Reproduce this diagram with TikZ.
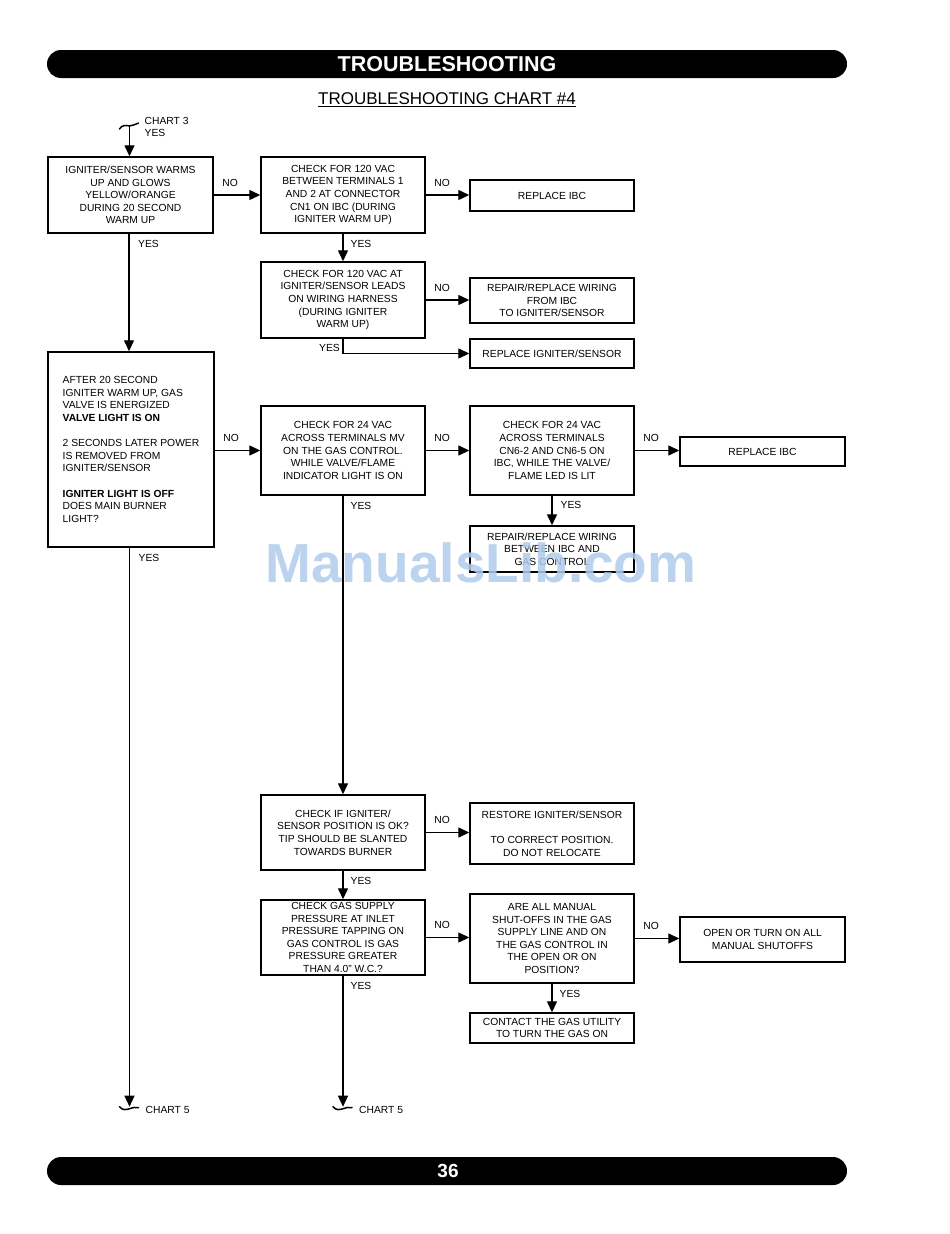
\documentclass[tikz,border=0pt]{standalone}
\usepackage{fontspec}
\setmainfont{Liberation Sans}
\usetikzlibrary{arrows.meta,calc}
\definecolor{wm}{RGB}{176,204,236}
\begin{document}
\begin{tikzpicture}[x=1pt,y=-1pt,
  box/.style={draw, line width=1.4pt, inner sep=0pt, align=center, font=\fontsize{10.3}{12.6}\selectfont},
  bx/.style 2 args={box, minimum width=#1, minimum height=#2},
  lbl/.style={inner sep=0pt, font=\fontsize{10.3}{12.6}\selectfont},
  arr/.style={line width=1.3pt, -{Triangle[length=11pt,width=10pt]}},
  ln/.style={line width=1.5pt, line cap=round},
  nolbl/.style={lbl, pos=0, anchor=south west, xshift=8pt, yshift=8pt},
  yeslbl/.style={lbl, pos=0, anchor=north west, xshift=7pt, yshift=-6pt}]
\useasboundingbox[fill=white] (0,0) rectangle (950,1234);

% header / footer
\fill[rounded corners=14pt] (47,50) rectangle (847,78);
\node[font=\fontsize{21.5}{22}\selectfont\bfseries, text=white, inner sep=0pt] (hd) at (447,64) {TROUBLESHOOTING};
\node[font=\fontsize{17}{18}\selectfont, inner sep=0pt] (sub) at (447,100) {\underline{TROUBLESHOOTING CHART \#4}};
\fill[rounded corners=14pt] (47,1157) rectangle (847,1185);
\node[font=\fontsize{19}{20}\selectfont\bfseries, text=white, inner sep=0pt] (pg) at (448,1171) {36};

% boxes
\node[bx={165}{76}] (A) at (130.5,195) {IGNITER/SENSOR WARMS\\UP AND GLOWS\\YELLOW/ORANGE\\DURING 20 SECOND\\WARM UP};
\node[bx={164}{76}] (B) at (343,195) {CHECK FOR 120 VAC\\BETWEEN TERMINALS 1\\AND 2 AT CONNECTOR\\CN1 ON IBC (DURING\\IGNITER WARM UP)};
\node[bx={164}{31}] (C) at (552,195.5) {REPLACE IBC};
\node[bx={164}{76}] (D) at (343,300) {CHECK FOR 120 VAC AT\\IGNITER/SENSOR LEADS\\ON WIRING HARNESS\\(DURING IGNITER\\WARM UP)};
\node[bx={164}{45}] (E) at (552,300.5) {REPAIR/REPLACE WIRING\\FROM IBC\\TO IGNITER/SENSOR};
\node[bx={164}{29}] (F) at (552,353.5) {REPLACE IGNITER/SENSOR};
\node[bx={166}{195}, align=left] (G) at (131,449.5) {AFTER 20 SECOND\\IGNITER WARM UP, GAS\\VALVE IS ENERGIZED\\\textbf{VALVE LIGHT IS ON}\\[12.6pt]2 SECONDS LATER POWER\\IS REMOVED FROM\\IGNITER/SENSOR\\[12.6pt]\textbf{IGNITER LIGHT IS OFF}\\DOES MAIN BURNER\\LIGHT?};
\node[bx={164}{89}] (H) at (343,450.5) {CHECK FOR 24 VAC\\ACROSS TERMINALS MV\\ON THE GAS CONTROL.\\WHILE VALVE/FLAME\\INDICATOR LIGHT IS ON};
\node[bx={164}{89}] (I) at (552,450.5) {CHECK FOR 24 VAC\\ACROSS TERMINALS\\CN6-2 AND CN6-5 ON\\IBC, WHILE THE VALVE/\\FLAME LED IS LIT};
\node[bx={165}{29}] (J) at (762.5,451.5) {REPLACE IBC};
\node[bx={164}{46}] (K) at (552,549) {REPAIR/REPLACE WIRING\\BETWEEN IBC AND\\GAS CONTROL};
\node[bx={164}{75}] (L) at (343,832.5) {CHECK IF IGNITER/\\SENSOR POSITION IS OK?\\TIP SHOULD BE SLANTED\\TOWARDS BURNER};
\node[bx={164}{61}] (M) at (552,833.5) {RESTORE IGNITER/SENSOR\\[12.6pt]TO CORRECT POSITION.\\DO NOT RELOCATE};
\node[bx={164}{75}] (N) at (343,937.5) {CHECK GAS SUPPLY\\PRESSURE AT INLET\\PRESSURE TAPPING ON\\GAS CONTROL IS GAS\\PRESSURE GREATER\\THAN 4.0" W.C.?};
\node[bx={164}{89}] (O) at (552,938.5) {ARE ALL MANUAL\\SHUT-OFFS IN THE GAS\\SUPPLY LINE AND ON\\THE GAS CONTROL IN\\THE OPEN OR ON\\POSITION?};
\node[bx={165}{45}] (P) at (762.5,939.5) {OPEN OR TURN ON ALL\\MANUAL SHUTOFFS};
\node[bx={164}{30}] (Q) at (552,1028) {CONTACT THE GAS UTILITY\\TO TURN THE GAS ON};

% watermark
\node[font=\fontsize{55}{55}\selectfont\bfseries, text=wm, text opacity=0.85, inner sep=0pt] (wmk) at (481,563) {ManualsLib.com};

% start
\coordinate (s) at (129.5,126);
\draw[ln] ($(s)+(-10,3)$) .. controls ($(s)+(-8,-1)$) and ($(s)+(-3,-1)$) .. ($(s)+(0,0)$) .. controls ($(s)+(3,0)$) and ($(s)+(6,-2)$) .. ($(s)+(9,-3)$);
\draw[arr] (s) -- (s |- A.north);
\node[lbl, anchor=west] (c3) at ($(s)+(15,-5)$) {CHART 3};
\node[lbl, anchor=west] (c3y) at ($(s)+(15,7)$) {YES};

% connectors
\draw[arr] (A.east) -- (B.west) node[nolbl]{NO};
\draw[arr] (B.east) -- (B.east -| C.west) node[nolbl]{NO};
\draw[arr] (B.south) -- (D.north) node[yeslbl]{YES};
\draw[arr] (D.east) -- (D.east -| E.west) node[nolbl]{NO};
\draw[arr] (D.south) |- (F.west);
\node[lbl, anchor=east] (dy) at ($(D.south)+(-3,9)$) {YES};
\draw[arr] ($(A.south)+(-1.5,0)$) -- ($(A.south |- G.north)+(-1.5,0)$) node[yeslbl, xshift=1.5pt]{YES};
\draw[arr] (G.east |- H.west) -- (H.west) node[nolbl]{NO};
\draw[arr] (H.east) -- (I.west) node[nolbl]{NO};
\draw[arr] (I.east) -- (I.east -| J.west) node[nolbl]{NO};
\draw[arr] (I.south) -- (K.north) node[yeslbl, xshift=1pt, yshift=1pt]{YES};
\draw[arr] (H.south) -- (L.north) node[yeslbl]{YES};
\draw[arr] (L.east) -- (L.east -| M.west) node[nolbl]{NO};
\draw[arr] (L.south) -- (N.north) node[yeslbl]{YES};
\draw[arr] (N.east) -- (N.east -| O.west) node[nolbl]{NO};
\draw[arr] (O.east) -- (O.east -| P.west) node[nolbl]{NO};
\draw[arr] (O.south) -- (Q.north) node[yeslbl]{YES};

% ends
\coordinate (e1) at ($(G.south)+(-1.5,559)$);
\coordinate (e2) at ($(N.south)+(0,131)$);
\draw[arr] ($(G.south)+(-1.5,0)$) -- (e1) node[yeslbl, xshift=1.5pt]{YES};
\draw[arr] (N.south) -- (e2) node[yeslbl]{YES};
\draw[ln] ($(e1)+(-10,0)$) .. controls ($(e1)+(-7,4)$) and ($(e1)+(-3,3)$) .. ($(e1)+(0,2)$) .. controls ($(e1)+(3,1)$) and ($(e1)+(6,0)$) .. ($(e1)+(9,1)$);
\draw[ln] ($(e2)+(-10,0)$) .. controls ($(e2)+(-7,4)$) and ($(e2)+(-3,3)$) .. ($(e2)+(0,2)$) .. controls ($(e2)+(3,1)$) and ($(e2)+(6,0)$) .. ($(e2)+(9,1)$);
\node[lbl, anchor=west] (c5a) at ($(e1)+(16,3)$) {CHART 5};
\node[lbl, anchor=west] (c5b) at ($(e2)+(16,3)$) {CHART 5};
\end{tikzpicture}
\end{document}
